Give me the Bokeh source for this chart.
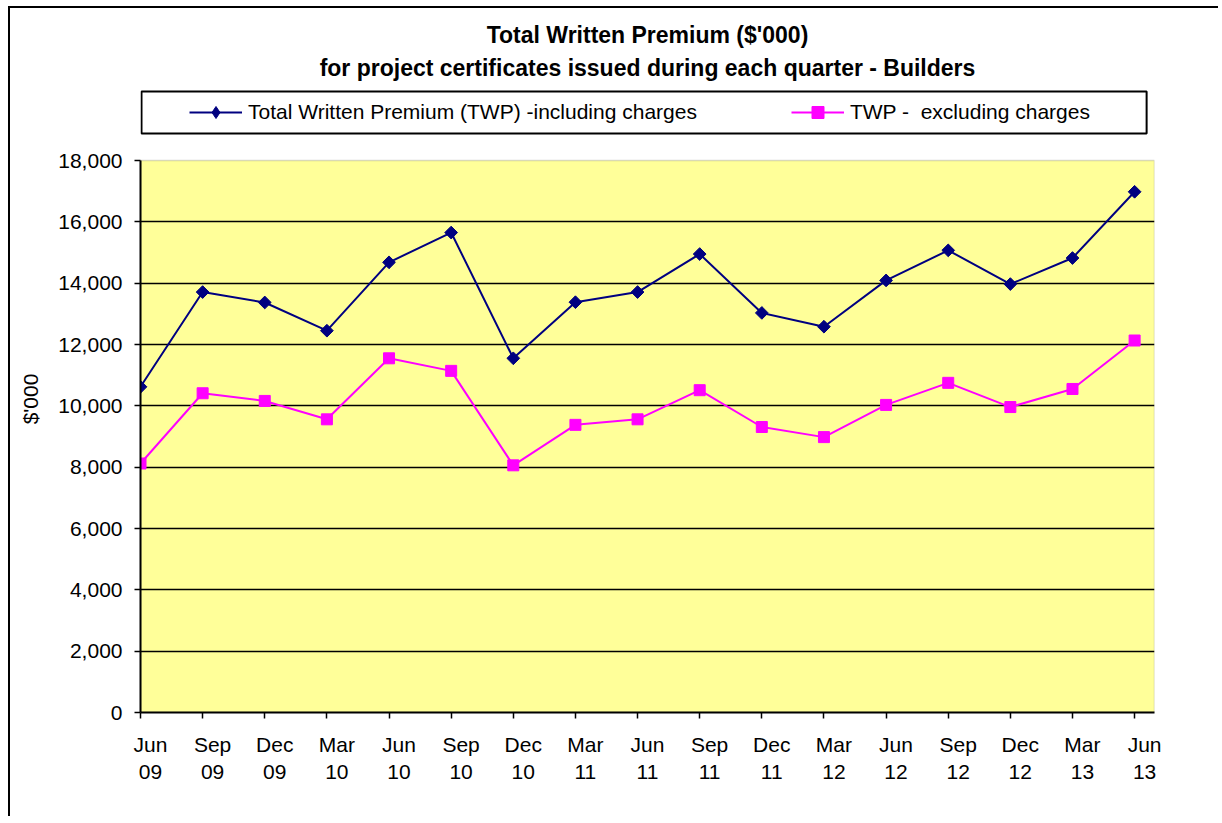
import numpy as np
from bokeh.plotting import figure
from bokeh.models import (Range1d, FixedTicker, NumeralTickFormatter, Legend,
                          LegendItem, Title, BoxAnnotation)
from bokeh.embed import file_html
from bokeh.resources import INLINE

# ---- data -----------------------------------------------------------------
quarters = ["Jun\n09", "Sep\n09", "Dec\n09", "Mar\n10", "Jun\n10", "Sep\n10",
            "Dec\n10", "Mar\n11", "Jun\n11", "Sep\n11", "Dec\n11", "Mar\n12",
            "Jun\n12", "Sep\n12", "Dec\n12", "Mar\n13", "Jun\n13"]
twp_incl = [10620, 13710, 13370, 12450, 14680, 15650, 11550, 13380, 13710,
            14950, 13030, 12580, 14090, 15070, 13970, 14820, 16980]
twp_excl = [8120, 10410, 10160, 9560, 11550, 11140, 8060, 9380, 9560,
            10510, 9310, 8980, 10030, 10750, 9960, 10550, 12130]
y_ticks = [0, 2000, 4000, 6000, 8000, 10000, 12000, 14000, 16000, 18000]
title_1 = "Total Written Premium ($'000)"
title_2 = "for project certificates issued during each quarter - Builders"
name_incl = "Total Written Premium (TWP) -including charges"
name_excl = "TWP -  excluding charges"
y_label = "$'000"

FONT = "Liberation Sans"
FS = "21px"

xs = list(range(len(quarters)))
y_max = y_ticks[-1]
x_end = len(quarters) - 1 + 0.32
# frame extends above the plot area so the legend can sit there
frame_h = 627.0
area_h = 552.0
px_y = y_max / area_h                 # data units per pixel (y)
px_x = (len(quarters) - 1) / 994.0    # data units per pixel (x)
y_top = frame_h * px_y

p = figure(width=1210, height=810,
           x_range=Range1d(0, x_end),
           y_range=Range1d(0, y_top),
           output_backend="svg", toolbar_location=None, title=None,
           min_border_left=130, min_border_right=66,
           min_border_top=77, min_border_bottom=106,
           background_fill_color="white", border_fill_color="white",
           outline_line_color=None)
p.margin = (6, 0, 0, 8)
p.styles = {"border-left": "2px solid black", "border-top": "2px solid black"}

# plot area (yellow) with grey border
area = BoxAnnotation(left=0, right=x_end, bottom=0, top=y_max,
                     fill_color="#FFFF99", fill_alpha=1,
                     line_color="#808080", line_width=1.5, level="image")
p.add_layout(area)

# lines + markers
l1 = p.line(xs, twp_incl, line_color="#000080", line_width=2)
# small diamond hidden under the rotated squares; gives the legend its key
d1 = p.scatter(xs, twp_incl, marker="diamond", size=9,
               fill_color="#000080", line_color="#000080")
s1 = p.scatter(xs, twp_incl, marker="square", angle=np.pi / 4, size=9,
               fill_color="#000080", line_color="#000080")
l2 = p.line(xs, twp_excl, line_color="#FF00FF", line_width=2)
s2 = p.scatter(xs, twp_excl, marker="square", size=11,
               fill_color="#FF00FF", line_color="#FF00FF")

# grid
p.xgrid.grid_line_color = None
p.ygrid.grid_line_color = "black"
p.ygrid.grid_line_width = 1.5
p.ygrid.ticker = FixedTicker(ticks=y_ticks[1:-1])
p.ygrid.bounds = (0, x_end)

# y axis
p.yaxis.ticker = FixedTicker(ticks=y_ticks, minor_ticks=[])
p.yaxis.bounds = (0, y_max)
p.yaxis.formatter = NumeralTickFormatter(format="0,0")
p.yaxis.axis_line_color = "black"
p.yaxis.axis_line_width = 2
p.yaxis.major_tick_line_color = "black"
p.yaxis.major_tick_line_width = 1.5
p.yaxis.major_tick_out = 6
p.yaxis.major_tick_in = 0
p.yaxis.minor_tick_line_color = None
p.yaxis.major_label_text_font = FONT
p.yaxis.major_label_text_font_size = FS
p.yaxis.major_label_text_color = "black"
p.yaxis.major_label_standoff = 12
p.yaxis.axis_label = y_label
p.yaxis.axis_label_text_font = FONT
p.yaxis.axis_label_text_font_size = FS
p.yaxis.axis_label_text_font_style = "normal"
p.yaxis.axis_label_text_color = "black"
p.yaxis.axis_label_standoff = 13

# x axis: tick marks on the categories (minor), labels offset slightly right
lab_off = 0.16
lab_pos = [round(i + lab_off, 2) for i in xs]
p.xaxis.ticker = FixedTicker(ticks=lab_pos, minor_ticks=xs)
p.xaxis.major_label_overrides = {lp: q for lp, q in zip(lab_pos, quarters)}
p.xaxis.axis_line_color = "black"
p.xaxis.axis_line_width = 2
p.xaxis.major_tick_line_color = None
p.xaxis.major_tick_out = 6
p.xaxis.major_tick_in = 0
p.xaxis.minor_tick_line_color = "black"
p.xaxis.minor_tick_line_width = 1.5
p.xaxis.minor_tick_out = 6
p.xaxis.minor_tick_in = 0
p.xaxis.major_label_text_font = FONT
p.xaxis.major_label_text_font_size = FS
p.xaxis.major_label_text_color = "black"
p.xaxis.major_label_standoff = 14

# legend frame box (white, black border) above the plot area
leg_box = BoxAnnotation(left=1 * px_x, right=1006 * px_x,
                        bottom=579 * px_y, top=621 * px_y,
                        fill_color="white", fill_alpha=1,
                        line_color="black", line_width=2, line_alpha=1)
p.add_layout(leg_box)

legend = Legend(items=[LegendItem(label=name_incl, renderers=[l1, d1]),
                       LegendItem(label=name_excl, renderers=[l2, s2])],
                orientation="horizontal", location=(49, 585),
                border_line_color=None, background_fill_alpha=0,
                label_text_font=FONT, label_text_font_size=FS,
                label_text_color="black",
                glyph_width=53, glyph_height=30, label_standoff=6,
                spacing=94, padding=6, margin=0)
p.add_layout(legend, "center")

t2 = Title(text=title_2, align="center", text_font=FONT, text_font_size="23px",
           text_font_style="bold", text_color="black", standoff=10)
t1 = Title(text=title_1, align="center", text_font=FONT, text_font_size="23px",
           text_font_style="bold", text_color="black", standoff=0)
p.add_layout(t2, "above")
p.add_layout(t1, "above")

open("out.html", "w").write(file_html(p, INLINE))
